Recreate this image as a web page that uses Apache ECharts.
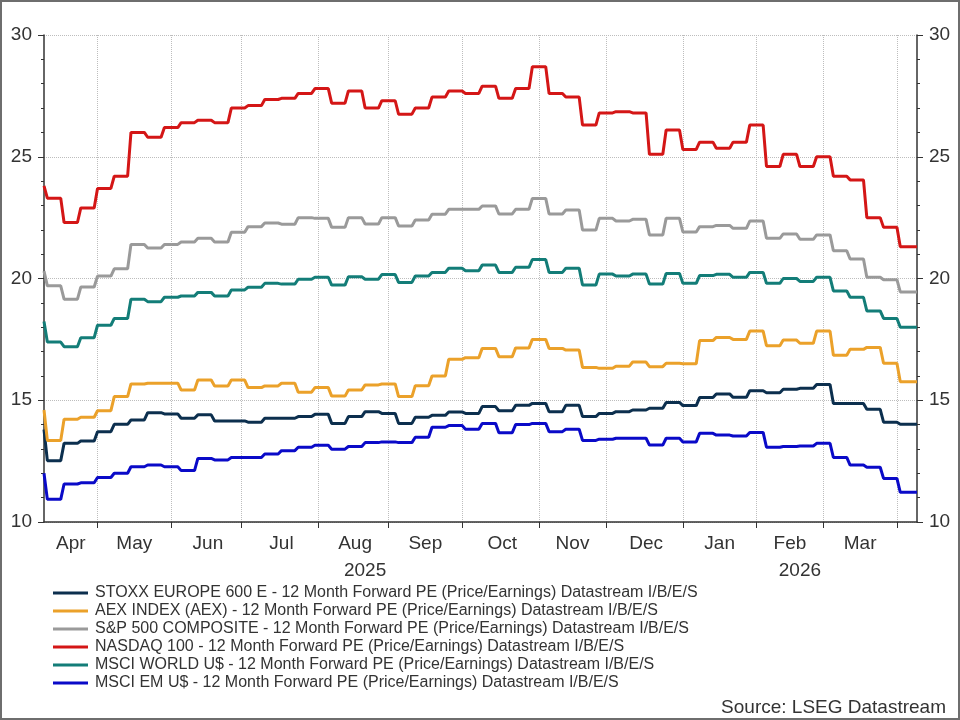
<!DOCTYPE html>
<html>
<head>
<meta charset="utf-8">
<script src="https://cdn.jsdelivr.net/npm/echarts@6/dist/echarts.min.js"></script>
<style>
  html, body { margin: 0; padding: 0; background: #fff; }
  #peChart { width: 960px; height: 720px; }
</style>
</head>
<body>
<div id="peChart"></div>
<script>
// weekly I/B/E/S values: first is the opening day, then one per week (Thu..Wed)
const stoxx = [13.8,
  12.52, 13.23, 13.33, 13.71, 14.01, 14.19, 14.49, 14.44, 14.26, 14.4, 14.15, 14.15, 14.1, 14.26, 14.26, 14.33, 14.42,
  14.05, 14.33, 14.53, 14.46, 14.05, 14.3, 14.38, 14.52, 14.46, 14.74, 14.57, 14.79, 14.87, 14.53, 14.79, 14.33, 14.46, 14.53,
  14.6, 14.67, 14.91, 14.78, 15.11, 15.26, 15.12, 15.39, 15.31, 15.45, 15.49, 15.65, 14.87, 14.87, 14.63, 14.1, 14.01];
const aex = [14.6,
  13.35, 14.22, 14.3, 14.57, 15.15, 15.67, 15.7, 15.7, 15.42, 15.83, 15.59, 15.83, 15.52, 15.59, 15.7, 15.33, 15.52,
  15.17, 15.42, 15.63, 15.67, 15.15, 15.6, 16.0, 16.68, 16.75, 17.13, 16.79, 17.15, 17.5, 17.13, 17.06, 16.35, 16.31, 16.4,
  16.57, 16.38, 16.52, 16.5, 17.45, 17.58, 17.5, 17.84, 17.24, 17.47, 17.34, 17.84, 16.85, 17.09, 17.17, 16.52, 15.76];
const spx = [20.3,
  19.7, 19.15, 19.65, 20.1, 20.4, 21.4, 21.25, 21.4, 21.5, 21.65, 21.5, 21.9, 22.13, 22.28, 22.23, 22.5, 22.47,
  22.1, 22.5, 22.24, 22.5, 22.16, 22.4, 22.64, 22.84, 22.84, 22.98, 22.65, 22.84, 23.29, 22.65, 22.81, 21.99, 22.47, 22.36,
  22.43, 21.79, 22.47, 21.91, 22.13, 22.18, 22.06, 22.36, 21.65, 21.83, 21.61, 21.79, 21.14, 20.8, 20.05, 19.95, 19.45];
const ndx = [23.8,
  23.3, 22.3, 22.9, 23.7, 24.2, 26.0, 25.8, 26.2, 26.4, 26.5, 26.4, 27.0, 27.1, 27.35, 27.4, 27.6, 27.8,
  27.2, 27.7, 27.0, 27.3, 26.75, 27.0, 27.45, 27.7, 27.6, 27.9, 27.4, 27.8, 28.7, 27.6, 27.45, 26.3, 26.8,
  26.85, 26.8, 25.1, 26.1, 25.3, 25.6, 25.35, 25.6, 26.3, 24.6, 25.1, 24.6, 25.0, 24.2, 24.05, 22.5, 22.1, 21.3];
const world = [18.23,
  17.39, 17.2, 17.57, 18.08, 18.36, 19.15, 19.05, 19.23, 19.28, 19.43, 19.28, 19.53, 19.64, 19.8, 19.77, 19.97, 20.05,
  19.73, 20.07, 19.97, 20.16, 19.84, 20.1, 20.25, 20.42, 20.32, 20.55, 20.25, 20.46, 20.78, 20.25, 20.42, 19.73, 20.18, 20.1,
  20.18, 19.77, 20.21, 19.8, 20.12, 20.17, 20.05, 20.25, 19.8, 20.0, 19.88, 20.05, 19.49, 19.23, 18.67, 18.36, 18.0];
const em = [12.0,
  10.93, 11.56, 11.61, 11.83, 12.0, 12.27, 12.34, 12.27, 12.11, 12.61, 12.55, 12.65, 12.65, 12.79, 12.93, 13.07, 13.15,
  12.99, 13.1, 13.26, 13.29, 13.26, 13.48, 13.89, 13.96, 13.81, 14.05, 13.67, 14.0, 14.05, 13.71, 13.81, 13.35, 13.4, 13.44,
  13.44, 13.16, 13.44, 13.29, 13.64, 13.57, 13.53, 13.68, 13.07, 13.1, 13.12, 13.23, 12.65, 12.34, 12.25, 11.79, 11.22];

const names = [
  'STOXX EUROPE 600 E - 12 Month Forward PE (Price/Earnings) Datastream I/B/E/S',
  'AEX INDEX (AEX) - 12 Month Forward PE (Price/Earnings) Datastream I/B/E/S',
  'S&P 500 COMPOSITE - 12 Month Forward PE (Price/Earnings) Datastream I/B/E/S',
  'NASDAQ 100 - 12 Month Forward PE (Price/Earnings) Datastream I/B/E/S',
  'MSCI WORLD U$ - 12 Month Forward PE (Price/Earnings) Datastream I/B/E/S',
  'MSCI EM U$ - 12 Month Forward PE (Price/Earnings) Datastream I/B/E/S'
];
const colors = ['#0c2f4e', '#eba12a', '#9a9a9a', '#d41616', '#137d78', '#0a0ac8'];
const monthNames = ['Jan','Feb','Mar','Apr','May','Jun','Jul','Aug','Sep','Oct','Nov','Dec'];
const yTicks = [10, 30, 5];

// business days 9 Apr 2025 .. 9 Apr 2026
const days = [];
for (let t = Date.UTC(2025, 3, 9); t <= Date.UTC(2026, 3, 9); t += 86400000) {
    const d = new Date(t);
    if (d.getUTCDay() === 0 || d.getUTCDay() === 6) continue;
    days.push(d.toISOString().slice(0, 10));
}
const last = days.length - 1;

// month starts, month label positions (middle of each month), year label positions
const monthStart = {};
const starts = [0];
days.forEach((d, i) => {
    if (i > 0 && d.slice(5, 7) !== days[i - 1].slice(5, 7)) { monthStart[i] = true; starts.push(i); }
});
starts.push(last);
const monthLabel = {};
for (let j = 0; j < starts.length - 1; j++) {
    if (starts[j + 1] - starts[j] < 10) continue;
    const mid = Math.round((starts[j] + starts[j + 1]) / 2);
    monthLabel[mid] = monthNames[+days[starts[j]].slice(5, 7) - 1];
}
const yearLabel = {};
const jan = days.findIndex(d => d.startsWith('2026'));
yearLabel[Math.round(jan / 2)] = '2025';
yearLabel[Math.round((jan + last) / 2)] = '2026';

function steps(vals) {
    const pts = [[0, vals[0]]];
    for (let k = 1; k < vals.length; k++) {
        const s = 5 * k - 4;
        const e = k === vals.length - 1 ? last : 5 * k;
        pts.push([s, vals[k]], [e, vals[k]]);
    }
    return pts;
}

const chart = echarts.init(document.getElementById('peChart'));
const font = 'Liberation Sans, Arial, sans-serif';
const axisColor = '#333';
const gridLine = { show: true, lineStyle: { color: '#bdbdbd', type: 'dotted', width: 1 } };

const yAxisBase = {
    type: 'value',
    min: yTicks[0],
    max: yTicks[1],
    interval: yTicks[2],
    axisLine: { show: true, lineStyle: { color: axisColor, width: 1.5 } },
    axisTick: { show: true, length: 6, lineStyle: { color: axisColor } },
    minorTick: { show: true, splitNumber: 5, length: 3, lineStyle: { color: axisColor } },
    axisLabel: { fontSize: 19, color: axisColor, fontFamily: font, margin: 12 }
};

const option = {
    animation: false,
    textStyle: { fontFamily: font },
    color: colors,
    grid: { left: 44, right: 43, top: 35, bottom: 198, containLabel: false },
    xAxis: [{
        type: 'category',
        data: days,
        boundaryGap: false,
        axisLine: { lineStyle: { color: axisColor, width: 1.5 } },
        axisTick: { interval: (i) => !!monthStart[i], length: 6, lineStyle: { color: axisColor } },
        axisLabel: {
            interval: (i) => monthLabel[i] !== undefined,
            formatter: (v, i) => monthLabel[i] || '',
            fontSize: 19, color: axisColor, fontFamily: font, margin: 12
        },
        splitLine: Object.assign({ interval: (i) => !!monthStart[i] }, gridLine)
    }, {
        type: 'category',
        data: days,
        boundaryGap: false,
        position: 'bottom',
        offset: 27,
        axisLine: { show: false },
        axisTick: { show: false },
        splitLine: { show: false },
        axisLabel: {
            interval: (i) => yearLabel[i] !== undefined,
            formatter: (v, i) => yearLabel[i] || '',
            fontSize: 19, color: axisColor, fontFamily: font, margin: 12
        }
    }],
    yAxis: [
        Object.assign({}, yAxisBase, { position: 'left', splitLine: gridLine }),
        Object.assign({}, yAxisBase, { position: 'right', splitLine: { show: false } })
    ],
    legend: {
        orient: 'vertical',
        left: 53,
        top: 584,
        padding: 0,
        icon: 'rect',
        itemWidth: 35,
        itemHeight: 3,
        itemGap: 0,
        textStyle: { fontSize: 16, color: axisColor, fontFamily: font, lineHeight: 18, padding: [0, 0, 0, 2] },
        data: names
    },
    series: [stoxx, aex, spx, ndx, world, em].map((vals, i) => ({
        name: names[i],
        type: 'line',
        data: steps(vals),
        showSymbol: false,
        lineStyle: { width: 3, color: colors[i] },
        itemStyle: { color: colors[i] }
    })),
    graphic: [{
        type: 'text',
        right: 14,
        top: 698,
        style: { text: 'Source: LSEG Datastream', fontSize: 19, fill: axisColor, fontFamily: font }
    }, {
        type: 'rect',
        shape: { x: 1, y: 1, width: 958, height: 718 },
        style: { fill: 'none', stroke: '#6e6e6e', lineWidth: 2 },
        silent: true
    }]
};

chart.setOption(option);
</script>
</body>
</html>
